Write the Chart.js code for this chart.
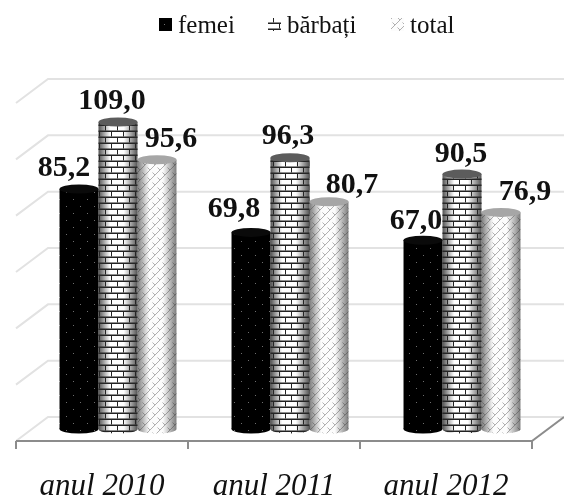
<!DOCTYPE html>
<html lang="ro">
<head>
    <meta charset="UTF-8">
    <title>Femei, bărbați, total 2010-2012</title>
    <script src="https://cdn.jsdelivr.net/npm/chart.js@4"></script>
    <style>
        body, html { margin: 0; background: #fff; }
        canvas { display: block; }
    </style>
</head>
<body>
    <canvas id="chart_div" width="564" height="499"></canvas>
    <script>
        const years = ['anul 2010', 'anul 2011', 'anul 2012'];
        const femei = [85.2, 69.8, 67.0];
        const barbati = [109.0, 96.3, 90.5];
        const total = [95.6, 80.7, 76.9];
        const yTicks = [0, 20, 40, 60, 80, 100, 120];

        // 3D look: the floor runs from front to back, bars stand in the middle of it
        const depthX = 16, depthY = 12;
        const capRy = 4.5;
        const serif = '"Liberation Serif", serif';

        // Label nudges per series and year, the labels dodge each other by hand
        const labelDx = [[-15, -17, -7], [-6, -2, -1], [14, 23, 24]];
        const labelDy = [[-13, -15, -11], [-13, -14, -12], [-13, -9, -12]];

        function tile(size, paint) {
            const c = document.createElement('canvas');
            c.width = c.height = size;
            paint(c.getContext('2d'));
            return c.getContext('2d').createPattern(c, 'repeat');
        }

        const dots = tile(14, g => {
            g.fillStyle = '#000';
            g.fillRect(0, 0, 14, 14);
            g.fillStyle = '#6e6e6e';
            g.fillRect(3, 3, 1, 1);
            g.fillRect(10, 10, 1, 1);
        });

        const bricks = tile(12, g => {
            g.fillStyle = '#fff';
            g.fillRect(0, 0, 12, 12);
            g.fillStyle = '#222';
            g.fillRect(0, 4.5, 12, 1.5);
            g.fillRect(0, 10.5, 12, 1.5);
            g.fillRect(3, 0, 1, 4.5);
            g.fillRect(9, 6, 1, 4.5);
        });

        // herringbone: long rising strokes with short falling ones between
        const zigzag = tile(10, g => {
            g.fillStyle = '#fcfcfc';
            g.fillRect(0, 0, 10, 10);
            g.strokeStyle = '#b0b0b0';
            g.lineWidth = 1;
            g.beginPath();
            g.moveTo(-1, 11); g.lineTo(11, -1);
            g.moveTo(5, 5); g.lineTo(2.5, 2.5);
            g.moveTo(10, 10); g.lineTo(7.5, 7.5);
            g.moveTo(0, 0); g.lineTo(-2.5, -2.5);
            g.stroke();
        });

        const capColors = ['#0a0a0a', '#5c5c5c', '#a6a6a6'];
        const edgeShade = [0, 0.8, 0.6];

        // Walls, floor and front axis
        const wallsPlugin = {
            id: 'walls',
            beforeDatasetsDraw(chart) {
                const { ctx, scales: { x, y } } = chart;
                const front = y.getPixelForValue(0) + depthY;
                ctx.save();
                ctx.lineWidth = 2;
                ctx.strokeStyle = '#e2e2e2';
                ctx.beginPath();
                yTicks.forEach(v => {
                    const py = y.getPixelForValue(v);
                    ctx.moveTo(x.left - depthX, py + depthY);
                    ctx.lineTo(x.left + depthX, py - depthY);
                    ctx.lineTo(x.right + depthX, py - depthY);
                });
                ctx.stroke();

                ctx.strokeStyle = '#8c8c8c';
                ctx.beginPath();
                ctx.moveTo(x.left - depthX, front);
                ctx.lineTo(x.right - depthX, front);
                ctx.lineTo(x.right + depthX, front - 2 * depthY);
                ctx.stroke();

                ctx.beginPath();
                years.forEach((_, i) => {
                    ctx.moveTo(x.getPixelForValue(i - 0.5) - depthX, front);
                    ctx.lineTo(x.getPixelForValue(i - 0.5) - depthX, front + 8);
                });
                ctx.moveTo(x.right - depthX, front);
                ctx.lineTo(x.right - depthX, front + 8);
                ctx.stroke();

                // rounded feet of the cylinders go under the bars
                chart.data.datasets.forEach((ds, d) => {
                    chart.getDatasetMeta(d).data.forEach(bar => {
                        ctx.fillStyle = ds.backgroundColor;
                        ctx.beginPath();
                        ctx.ellipse(bar.x, bar.base, bar.width / 2, capRy, 0, 0, Math.PI * 2);
                        ctx.fill();
                    });
                });
                ctx.restore();
            }
        };

        // Round shading and top caps on top of the flat bars
        const cylinderPlugin = {
            id: 'cylinder',
            afterDatasetsDraw(chart) {
                const { ctx } = chart;
                ctx.save();
                chart.data.datasets.forEach((ds, d) => {
                    chart.getDatasetMeta(d).data.forEach(bar => {
                        const half = bar.width / 2;
                        const a = edgeShade[d];
                        const left = bar.x - half, right = bar.x + half;
                        if (a > 0) {
                            const g = ctx.createLinearGradient(left, 0, right, 0);
                            g.addColorStop(0, `rgba(40,40,40,${a})`);
                            g.addColorStop(0.3, 'rgba(40,40,40,0)');
                            g.addColorStop(0.65, 'rgba(40,40,40,0)');
                            g.addColorStop(1, `rgba(40,40,40,${a})`);
                            ctx.fillStyle = g;
                            ctx.beginPath();
                            ctx.moveTo(left, bar.y);
                            ctx.lineTo(right, bar.y);
                            ctx.lineTo(right, bar.base);
                            ctx.ellipse(bar.x, bar.base, half, capRy, 0, 0, Math.PI);
                            ctx.closePath();
                            ctx.fill();
                        }
                        ctx.fillStyle = capColors[d];
                        ctx.beginPath();
                        ctx.ellipse(bar.x, bar.y, half, capRy, 0, 0, Math.PI * 2);
                        ctx.fill();
                    });
                });

                ctx.fillStyle = '#111';
                ctx.font = 'bold 30px ' + serif;
                ctx.textAlign = 'center';
                ctx.textBaseline = 'alphabetic';
                chart.data.datasets.forEach((ds, d) => {
                    chart.getDatasetMeta(d).data.forEach((bar, i) => {
                        const text = ds.data[i].toFixed(1).replace('.', ',');
                        ctx.fillText(text, bar.x + labelDx[d][i], bar.y + labelDy[d][i]);
                    });
                });
                ctx.restore();
            }
        };

        // Legend row, the swatch sits closer to its text than the stock legend allows
        const legendStart = [159, 268, 391];
        const legendPlugin = {
            id: 'legendRow',
            afterDraw(chart) {
                const { ctx } = chart;
                ctx.save();
                ctx.font = '25px ' + serif;
                ctx.textAlign = 'left';
                ctx.textBaseline = 'alphabetic';
                chart.data.datasets.forEach((ds, d) => {
                    ctx.fillStyle = ds.backgroundColor;
                    ctx.fillRect(legendStart[d], 18, 13, 13);
                    ctx.fillStyle = '#111';
                    ctx.fillText(ds.label, legendStart[d] + 19, 33);
                });
                ctx.restore();
            }
        };

        const ctx = document.getElementById('chart_div').getContext('2d');
        new Chart(ctx, {
            type: 'bar',
            data: {
                labels: years,
                datasets: [
                    { label: 'femei', data: femei, backgroundColor: dots },
                    { label: 'bărbați', data: barbati, backgroundColor: bricks },
                    { label: 'total', data: total, backgroundColor: zigzag }
                ]
            },
            options: {
                responsive: false,
                animation: false,
                layout: { padding: { left: 32, right: 16, top: 91, bottom: 0 } },
                categoryPercentage: 0.68,
                barPercentage: 1,
                plugins: {
                    legend: { display: false },
                    tooltip: { enabled: false }
                },
                scales: {
                    x: {
                        grid: { display: false, drawTicks: false },
                        border: { display: false },
                        afterFit(scale) {
                            // keep the long labels from squeezing the plot width
                            scale.height = 70;
                            scale.paddingLeft = 0;
                            scale.paddingRight = 0;
                        },
                        ticks: {
                            color: '#111',
                            padding: 39,
                            labelOffset: -depthX,
                            maxRotation: 0,
                            autoSkip: false,
                            font: { family: serif, size: 31, style: 'italic' }
                        }
                    },
                    y: {
                        display: false,
                        min: 0,
                        max: 120,
                        ticks: { stepSize: 20 }
                    }
                }
            },
            plugins: [wallsPlugin, cylinderPlugin, legendPlugin]
        });
    </script>
</body>
</html>
